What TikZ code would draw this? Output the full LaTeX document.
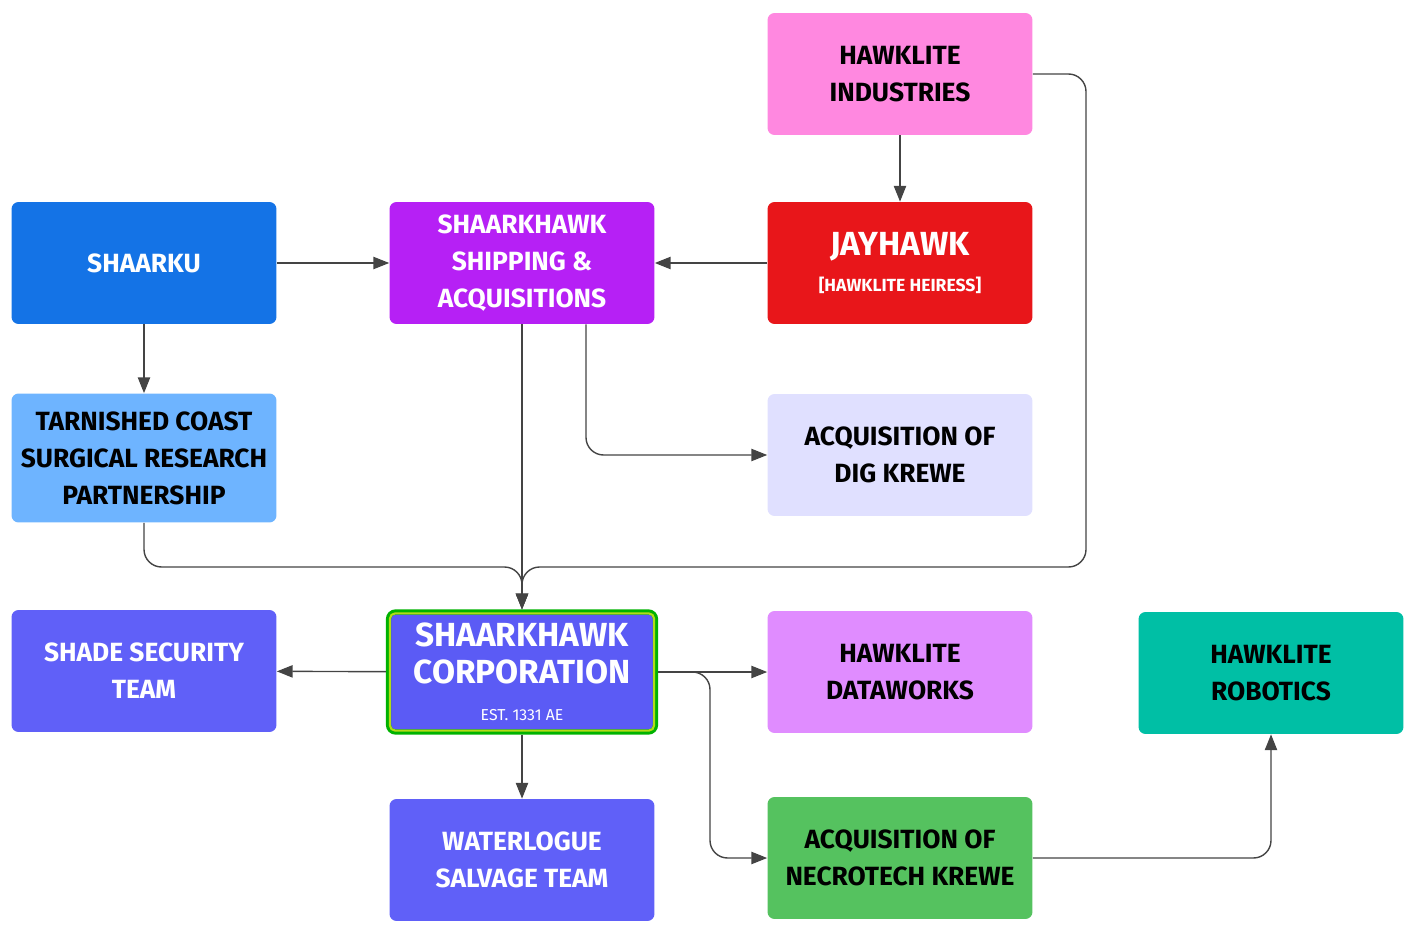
\documentclass[tikz,border=0pt]{standalone}
\usepackage{fontspec}
\setmainfont{Fira Sans}
\usetikzlibrary{arrows.meta, positioning}

\definecolor{hlpink}{HTML}{FF88E0}
\definecolor{jayred}{HTML}{E8161A}
\definecolor{shipviolet}{HTML}{B620F5}
\definecolor{shblue}{HTML}{1473E6}
\definecolor{tcblue}{HTML}{6EB4FF}
\definecolor{diglav}{HTML}{E0E0FF}
\definecolor{corpblue}{HTML}{5B5BF5}
\definecolor{teamblue}{HTML}{6060F8}
\definecolor{dwlilac}{HTML}{E08CFF}
\definecolor{robteal}{HTML}{00BFA5}
\definecolor{necgreen}{HTML}{55C25F}
\definecolor{linegray}{HTML}{444444}

\begin{document}
\begin{tikzpicture}[
    x=0.02cm, y=-0.02cm,
    box/.style={rectangle, rounded corners=4pt, minimum width=5.3cm, minimum height=2.44cm,
      align=center, font=\fontsize{15}{21}\selectfont\bfseries, text=white},
    darkbox/.style={box, text=black},
    arrow/.style={-{Triangle[length=9pt, width=7pt]}, linegray, line width=0.8pt, rounded corners=10pt}
]
\useasboundingbox (0,0) rectangle (1419,939);

\node[darkbox, fill=hlpink] (industries) at (900,74) {HAWKLITE\\INDUSTRIES};
\node[box, fill=jayred] (jayhawk) at (900,263) {{\fontsize{19}{22}\selectfont JAYHAWK}\\{\fontsize{10}{12}\selectfont [HAWKLITE HEIRESS]}};
\node[box, fill=shipviolet] (shipping) at (522,263) {SHAARKHAWK\\SHIPPING \&\\ACQUISITIONS};
\node[box, fill=shblue] (shaarku) at (144,263) {SHAARKU};
\node[darkbox, fill=tcblue, minimum height=2.58cm] (tarnished) at (144,458) {TARNISHED COAST\\SURGICAL RESEARCH\\PARTNERSHIP};
\node[darkbox, fill=diglav] (digkrewe) at (900,455) {ACQUISITION OF\\DIG KREWE};
\node[box, fill=corpblue, draw=green!70!black, line width=3pt, minimum width=5.34cm, minimum height=2.4cm] (corp) at (522,672)
  {{\fontsize{19}{24}\selectfont SHAARKHAWK}\\{\fontsize{19}{24}\selectfont CORPORATION}\\{\fontsize{9}{11}\selectfont\mdseries EST. 1331 AE}};
\draw[yellow!70!green, line width=1.2pt, rounded corners=3pt] ([shift={(4,4)}]corp.north west) rectangle ([shift={(-4,-4)}]corp.south east);
\node[box, fill=teamblue] (shade) at (144,671) {SHADE SECURITY\\TEAM};
\node[darkbox, fill=dwlilac] (dataworks) at (900,672) {HAWKLITE\\DATAWORKS};
\node[darkbox, fill=robteal] (robotics) at (1271,673) {HAWKLITE\\ROBOTICS};
\node[box, fill=teamblue] (waterlogue) at (522,860) {WATERLOGUE\\SALVAGE TEAM};
\node[darkbox, fill=necgreen] (necrotech) at (900,858) {ACQUISITION OF\\NECROTECH KREWE};

\coordinate (merge) at (522,567);

\draw[arrow] (industries) -- (jayhawk);
\draw[arrow] (jayhawk) -- (shipping);
\draw[arrow] (shaarku) -- (shipping);
\draw[arrow] (shaarku) -- (tarnished);
\draw[arrow] (shipping.south -| 586,0) |- (digkrewe);
\draw[arrow] (shipping) -- (corp);
\draw[arrow] (tarnished) |- (merge) -- (corp);
\draw[arrow] (industries.east) -- (1086,74) |- (merge) -- (corp);
\draw[arrow] (corp) -- (shade);
\draw[arrow] (corp) -- (dataworks);
\draw[arrow] (corp.east) -- (710,672) |- (necrotech);
\draw[arrow] (corp) -- (waterlogue);
\draw[arrow] (necrotech) -| (robotics);

\end{tikzpicture}
\end{document}
